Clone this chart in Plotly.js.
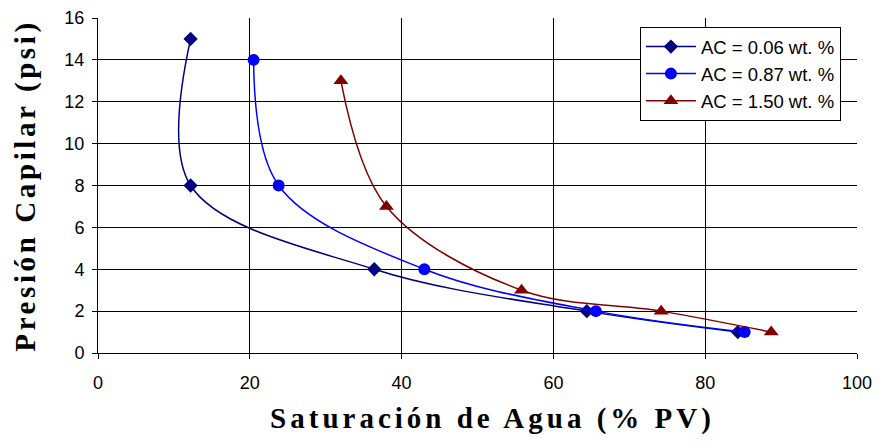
<!DOCTYPE html>
<html>
<head>
<meta charset="utf-8">
<script src="https://cdn.plot.ly/plotly-3.0.1.min.js"></script>
<style>
html,body{margin:0;padding:0;background:#fff;}
#chart{width:880px;height:446px;}
.xtitle{letter-spacing:4px; transform: translateX(15px);}
.ytitle{letter-spacing:3.6px;}
</style>
</head>
<body>
<div id="chart"></div>
<script>
// Data
var seriesNames = ["AC = 0.06 wt. %", "AC = 0.87 wt. %", "AC = 1.50 wt. %"];
var sw006 = [12.2, 12.2, 36.4, 64.4, 84.3];
var pc006 = [15, 8, 4, 2, 1];
var sw087 = [20.5, 23.8, 43.0, 65.6, 85.2];
var pc087 = [14, 8, 4, 2, 1];
var sw150 = [32.0, 38.0, 55.8, 74.2, 88.7];
var pc150 = [13, 7, 3, 2, 1];
var xTickVals = [0, 20, 40, 60, 80, 100];
var yTickVals = [0, 2, 4, 6, 8, 10, 12, 14, 16];

var traces = [
  {x: sw006, y: pc006, name: seriesNames[0], legendgroup: "a", mode: "lines+markers", type: "scatter",
   line: {color: "#000080", width: 1.5, shape: "spline", smoothing: 1},
   marker: {symbol: "diamond", size: 11, color: "#000080"}},
  {x: sw087, y: pc087, name: seriesNames[1], legendgroup: "b", mode: "lines+markers", type: "scatter",
   line: {color: "#0000ff", width: 1.5, shape: "spline", smoothing: 1},
   marker: {symbol: "circle", size: 12, color: "#0000ff"}},
  {x: sw150, y: pc150, name: seriesNames[2], legendgroup: "c", mode: "lines+markers", type: "scatter",
   line: {color: "#800000", width: 1.5, shape: "spline", smoothing: 1},
   marker: {symbol: "triangle-up", size: 13, color: "#800000"}}
];

var layout = {
  width: 880, height: 446,
  margin: {l: 98, r: 23, t: 18, b: 93},
  paper_bgcolor: "#fff", plot_bgcolor: "#fff",
  font: {family: "Liberation Sans, Arial, sans-serif", color: "#000"},
  showlegend: true,
  legend: {x: 0.714, y: 0.973, xanchor: "left", yanchor: "top",
           bgcolor: "#fff", bordercolor: "#000", borderwidth: 1,
           tracegroupgap: 0, traceorder: "grouped", itemwidth: 50,
           font: {size: 18.5, family: "Liberation Sans, Arial, sans-serif", color: "#000"}},
  xaxis: {range: [0, 100], tickvals: xTickVals, ticks: "outside", ticklen: 5,
          tickcolor: "#000", showline: true, linecolor: "#000", linewidth: 1,
          showgrid: true, gridcolor: "#000", gridwidth: 1, zeroline: false,
          tickfont: {size: 18}, ticklabelstandoff: 8,
          title: {text: "Saturación de Agua (% PV)", standoff: 16,
                  font: {family: "Liberation Serif, Times New Roman, serif", size: 29, weight: "bold"}}},
  yaxis: {range: [0, 16], tickvals: yTickVals, ticks: "outside", ticklen: 5,
          tickcolor: "#000", showline: true, linecolor: "#000", linewidth: 1,
          showgrid: true, gridcolor: "#000", gridwidth: 1, zeroline: false,
          tickfont: {size: 18}, ticklabelstandoff: 4,
          title: {text: "Presión Capilar (psi)", standoff: 20,
                  font: {family: "Liberation Serif, Times New Roman, serif", size: 29, weight: "bold"}}}
};

Plotly.newPlot("chart", traces, layout, {displayModeBar: false, staticPlot: true});
</script>
</body>
</html>
